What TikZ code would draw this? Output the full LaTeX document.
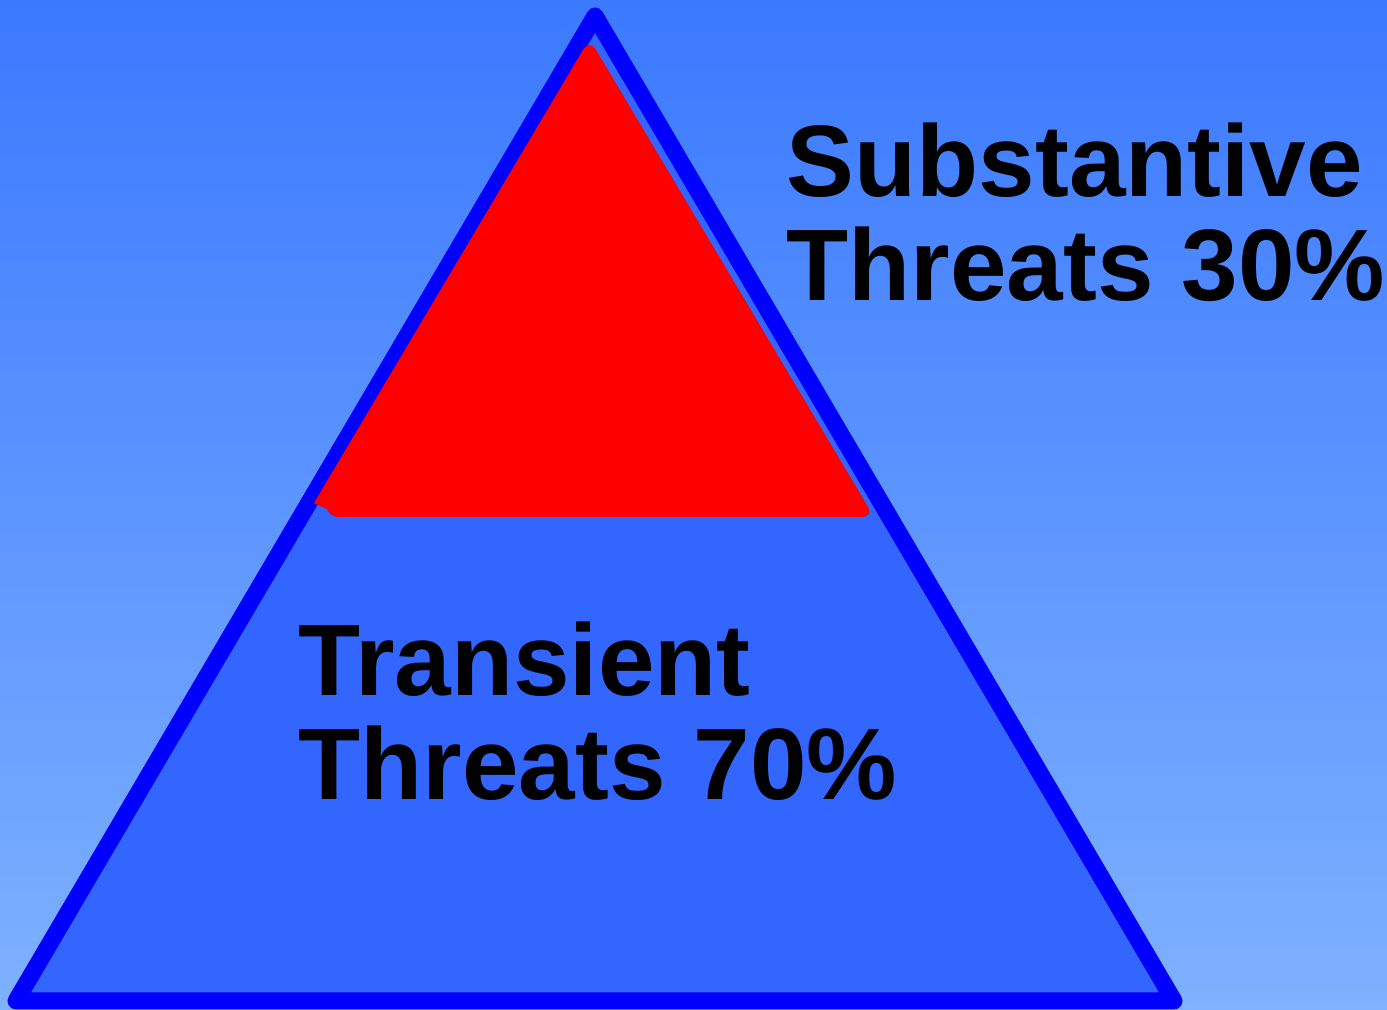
\documentclass[tikz,border=0pt]{standalone}
\usepackage{fontspec}
\setmainfont{Liberation Sans}
\usepackage{tikz}
\usetikzlibrary{calc}
\definecolor{bgtop}{RGB}{59,121,255}
\definecolor{bgbottom}{RGB}{126,177,255}
\definecolor{lowerpart}{RGB}{51,102,255}
\definecolor{edgeblue}{RGB}{0,0,255}
\definecolor{upperpart}{RGB}{255,0,0}

\begin{document}
\begin{tikzpicture}[x=0.01cm,y=0.01cm,
    outline/.style={draw=edgeblue,line width=0.17cm,line join=round},
    label/.style={anchor=base west,inner sep=0pt,align=left,
      font=\fontsize{28.9pt}{29.6pt}\selectfont\bfseries}]
  \useasboundingbox (0,0) rectangle (1387,1010);
  \shade[top color=bgtop,bottom color=bgbottom] (0,0) rectangle (1387,1010);
  % the big triangle
  \coordinate (top) at (595,994);
  \coordinate (left) at (16,9);
  \coordinate (right) at (1174,9);
  \filldraw[fill=lowerpart,outline] (top) -- (left) -- (right) -- cycle;
  % red tip
  \fill[upperpart] (326,493) -- (326,501) -- (314,507)
    [rounded corners=0.12cm] -- (589.5,971) -- (874,493) -- cycle;
  % base anchor sits on the last line
  \node[label] (upper) at (786,709) {Substantive\\Threats 30\%};
  \node[label] (lower) at (298,210) {Transient\\Threats 70\%};
\end{tikzpicture}
\end{document}
